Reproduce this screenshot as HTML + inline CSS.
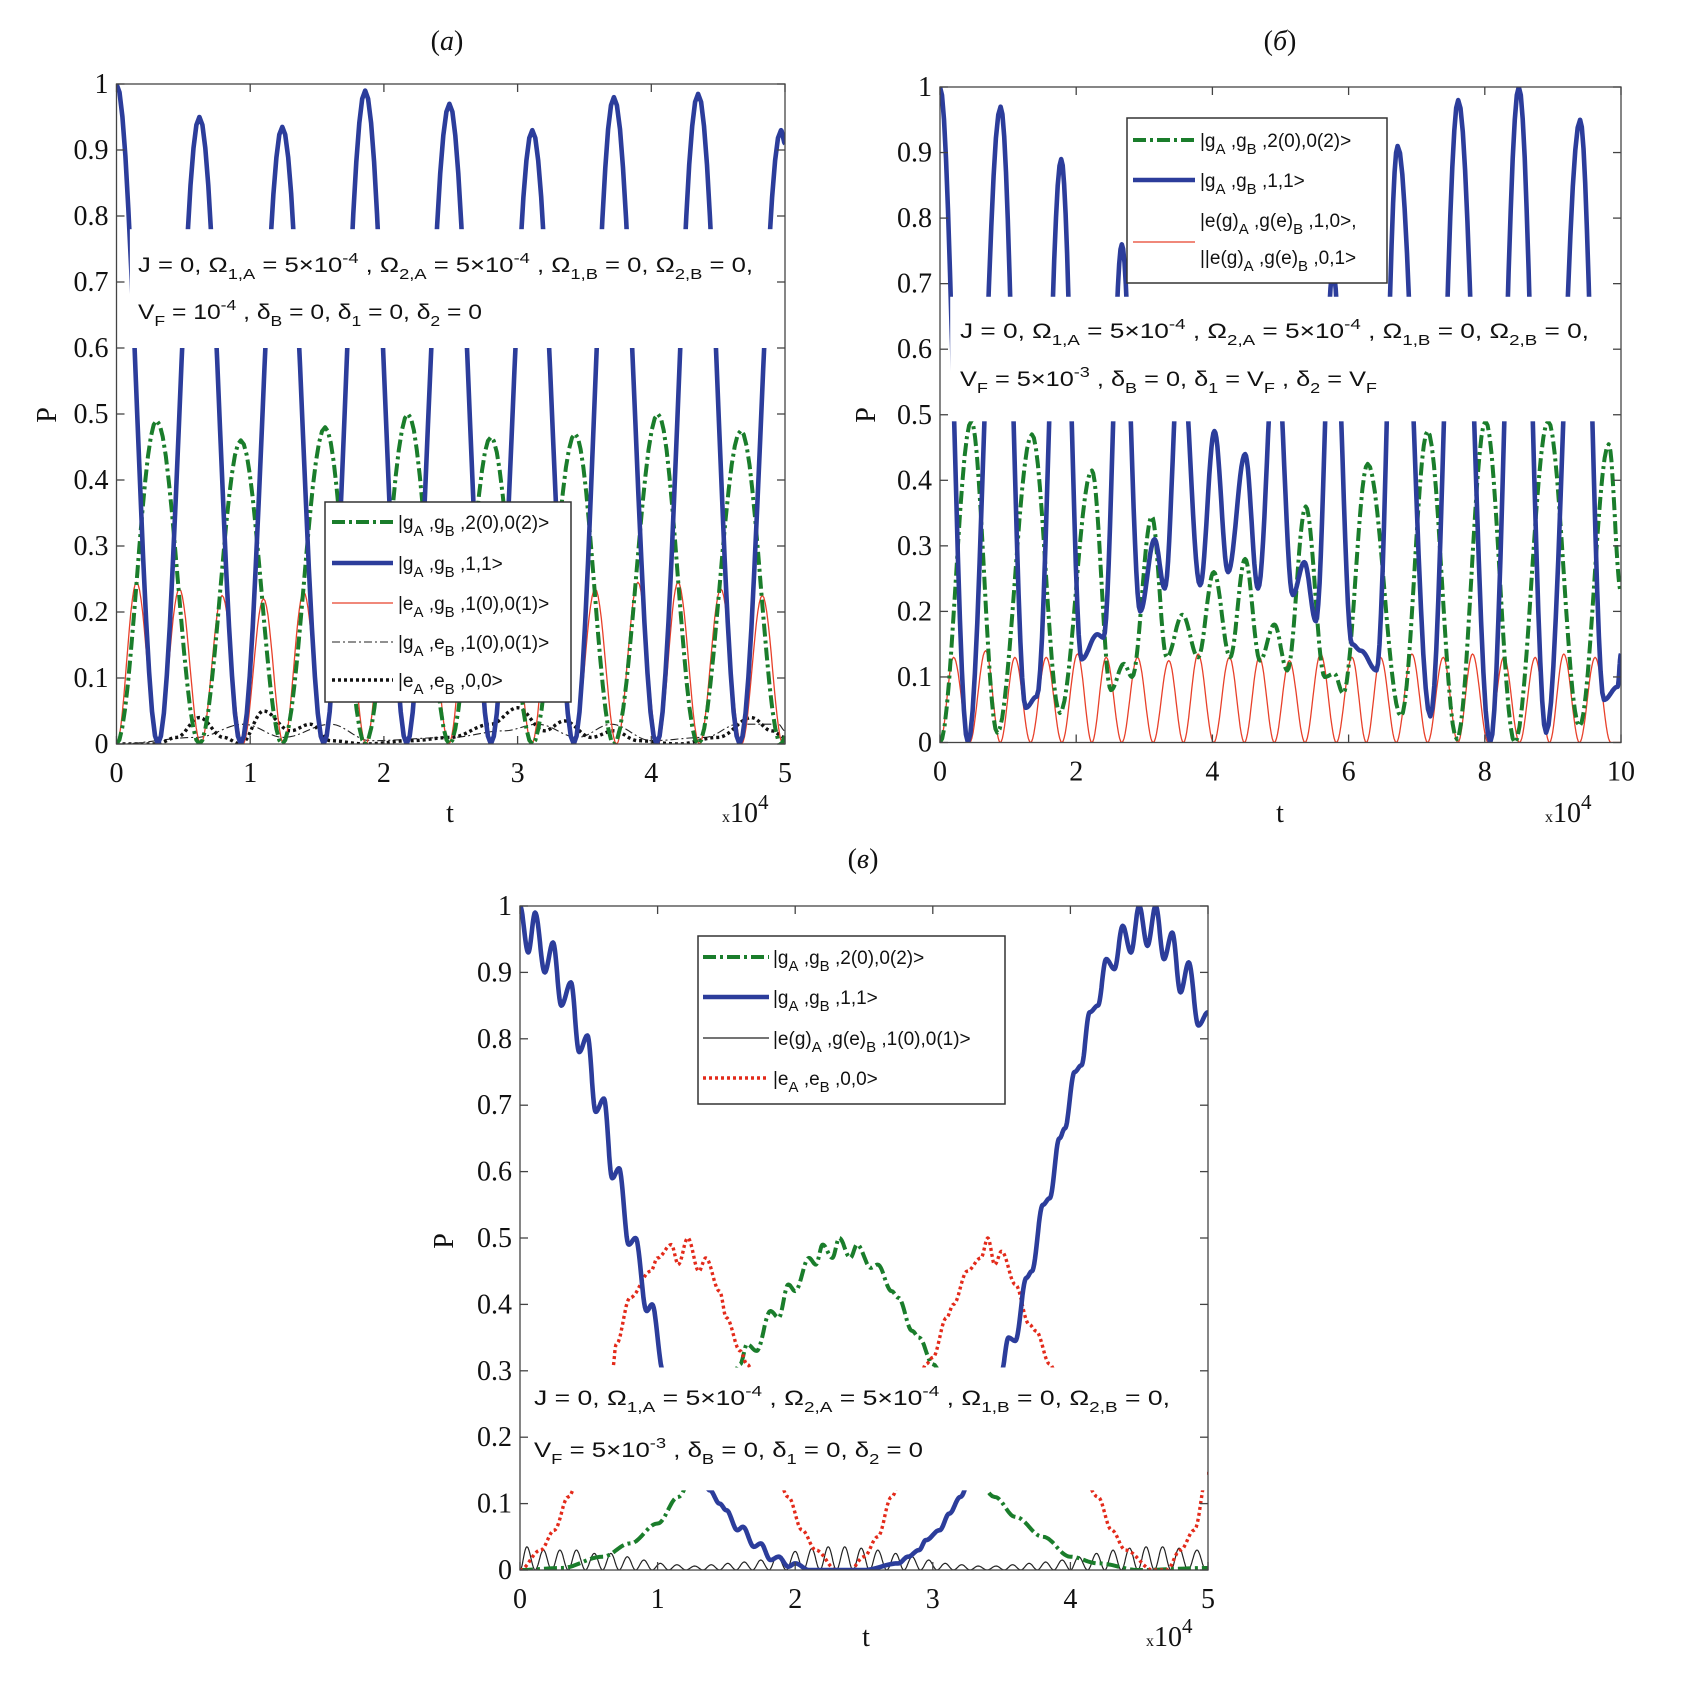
<!DOCTYPE html>
<html><head><meta charset="utf-8"><style>
html,body{margin:0;padding:0;background:#fff}
svg{display:block}
.tk{font-family:"Liberation Serif",serif;font-size:28px;fill:#111}
.sans{font-family:"Liberation Sans",sans-serif;fill:#111}
</style></head><body>
<svg id="fig" width="1698" height="1696" viewBox="0 0 1698 1696" xmlns="http://www.w3.org/2000/svg">
<defs>
<clipPath id="clipA"><rect x="116.5" y="84" width="668.5" height="660"/></clipPath>
<clipPath id="clipB"><rect x="940" y="87" width="681" height="655.5"/></clipPath>
<clipPath id="clipC"><rect x="520" y="906" width="688" height="664"/></clipPath>
</defs>
<g id="panelA"></g>
<g id="panelB"></g>
<g id="panelC"></g>
</svg>
<script>
// ---------- Panel (a) data: [t (x1e4), P] extrema ----------
const aBlue = [[0,1],[0.31,0],[0.62,0.95],[0.93,0],[1.24,0.935],[1.55,0],[1.86,0.99],[2.17,0],[2.49,0.97],[2.8,0],[3.11,0.93],[3.42,0],[3.72,0.98],[4.04,0],[4.35,0.985],[4.66,0],[4.97,0.93],[5,0.91]];
const aGreen = [[0,0],[0.3,0.49],[0.62,0],[0.93,0.46],[1.24,0],[1.56,0.48],[1.86,0],[2.18,0.5],[2.49,0],[2.8,0.465],[3.11,0],[3.43,0.47],[3.72,0],[4.05,0.5],[4.35,0],[4.67,0.475],[4.97,0],[5,0.01]];
const aRedPeakT = [0.15,0.47,0.79,1.1,1.4,1.71,2.02,2.33,2.64,2.95,3.26,3.58,3.9,4.2,4.52,4.83];
const aRedPeakP = [0.245,0.235,0.225,0.22,0.23,0.23,0.23,0.23,0.23,0.23,0.23,0.235,0.245,0.245,0.235,0.225];
const aDots = [[0,0],[0.3,0],[0.45,0.01],[0.62,0.04],[0.8,0.01],[0.93,0],[1.1,0.05],[1.3,0.02],[1.45,0.03],[1.6,0.005],[1.86,0],[2.2,0.005],[2.5,0.01],[2.8,0.03],[3.0,0.055],[3.2,0.02],[3.35,0.035],[3.55,0.01],[3.72,0.02],[3.9,0.005],[4.2,0],[4.5,0.01],[4.75,0.04],[4.9,0.02],[5,0.01]];
const aDashDot = [[0,0],[0.6,0.01],[0.95,0.03],[1.25,0.01],[1.6,0.03],[1.9,0.005],[2.5,0.01],[2.9,0.02],[3.15,0.03],[3.45,0.01],[3.7,0.03],[4.0,0.005],[4.4,0.01],[4.65,0.03],[4.95,0.03],[5,0.02]];
const aXTicks = [0,1,2,3,4,5];
const aXLabels = ["0","1","2","3","4","5"];
const yTicks = [0,0.1,0.2,0.3,0.4,0.5,0.6,0.7,0.8,0.9,1];
const yLabels = ["0","0.1","0.2","0.3","0.4","0.5","0.6","0.7","0.8","0.9","1"];

// ---------- Panel (б) data ----------
const bBlue = [[0,1],[0.41,0],[0.89,0.97],[1.26,0.053],[1.42,0.07],[1.78,0.89],[2.08,0.127],[2.31,0.165],[2.4,0.16],[2.67,0.76],[2.94,0.2],[3.15,0.31],[3.3,0.235],[3.53,0.62],[3.82,0.24],[4.03,0.475],[4.23,0.26],[4.48,0.44],[4.67,0.235],[4.93,0.62],[5.18,0.225],[5.35,0.275],[5.52,0.185],[5.77,0.72],[6.05,0.15],[6.18,0.14],[6.41,0.11],[6.72,0.91],[7.2,0.04],[7.61,0.98],[8.08,0],[8.5,1.0],[8.9,0.015],[9.4,0.95],[9.75,0.065],[9.95,0.085],[10,0.135]];
const bGreen = [[0,0],[0.46,0.49],[0.84,0.015],[1.35,0.47],[1.76,0.045],[2.23,0.415],[2.51,0.08],[2.7,0.12],[2.82,0.1],[3.11,0.345],[3.33,0.13],[3.56,0.195],[3.79,0.13],[4.02,0.26],[4.26,0.13],[4.48,0.28],[4.7,0.125],[4.91,0.18],[5.1,0.11],[5.37,0.36],[5.65,0.1],[5.79,0.105],[5.92,0.075],[6.28,0.425],[6.77,0.04],[7.16,0.475],[7.59,0.005],[8.01,0.49],[8.44,0],[8.93,0.49],[9.39,0.025],[9.82,0.455],[10,0.23]];
const bRedPeakT = [0.2,0.67,1.1,1.56,2.02,2.44,2.9,3.36,3.79,4.25,4.69,5.13,5.59,6.05,6.47,6.93,7.39,7.82,8.28,8.74,9.16,9.62];
const bRedPeakP = [0.13,0.14,0.13,0.13,0.135,0.13,0.13,0.125,0.135,0.13,0.13,0.125,0.135,0.13,0.13,0.135,0.13,0.135,0.13,0.13,0.135,0.13];
const bXTicks = [0,2,4,6,8,10];
const bXLabels = ["0","2","4","6","8","10"];

// ---------- Panel (в) data ----------
const cBlue = [[0,1],[0.06,0.93],[0.11,0.99],[0.18,0.9],[0.24,0.945],[0.3,0.85],[0.37,0.885],[0.43,0.78],[0.49,0.805],[0.55,0.69],[0.61,0.71],[0.67,0.59],[0.72,0.605],[0.79,0.49],[0.84,0.5],[0.92,0.39],[0.96,0.4],[1.04,0.3],[1.1,0.26],[1.2,0.2],[1.3,0.15],[1.38,0.12],[1.45,0.1],[1.5,0.09],[1.58,0.06],[1.62,0.065],[1.7,0.035],[1.75,0.04],[1.82,0.015],[1.88,0.02],[1.95,0.005],[2.0,0.01],[2.1,0],[2.5,0],[2.75,0.01],[2.82,0.02],[2.9,0.03],[2.95,0.045],[3.05,0.06],[3.12,0.085],[3.2,0.11],[3.3,0.16],[3.4,0.24],[3.5,0.3],[3.55,0.35],[3.6,0.345],[3.68,0.44],[3.72,0.45],[3.8,0.55],[3.85,0.56],[3.92,0.65],[3.96,0.665],[4.03,0.75],[4.08,0.76],[4.14,0.84],[4.2,0.85],[4.26,0.92],[4.32,0.905],[4.38,0.97],[4.44,0.93],[4.5,1.0],[4.56,0.94],[4.62,1.0],[4.68,0.92],[4.74,0.96],[4.8,0.87],[4.86,0.915],[4.93,0.82],[5,0.84]];
const cGreen = [[0,0],[0.3,0.003],[0.6,0.02],[0.8,0.04],[1.0,0.07],[1.15,0.11],[1.3,0.17],[1.5,0.26],[1.6,0.31],[1.65,0.34],[1.72,0.33],[1.82,0.39],[1.88,0.38],[1.95,0.43],[2.0,0.42],[2.1,0.47],[2.15,0.46],[2.2,0.49],[2.27,0.47],[2.32,0.5],[2.4,0.47],[2.45,0.49],[2.55,0.455],[2.6,0.46],[2.7,0.42],[2.75,0.41],[2.85,0.36],[2.9,0.35],[3.0,0.31],[3.2,0.2],[3.45,0.11],[3.6,0.08],[3.8,0.05],[4.0,0.02],[4.2,0.01],[4.5,0],[5,0.003]];
const cRed = [[0,0],[0.15,0.03],[0.25,0.06],[0.35,0.11],[0.5,0.2],[0.67,0.3],[0.7,0.34],[0.8,0.41],[0.95,0.45],[1.0,0.47],[1.1,0.49],[1.15,0.46],[1.22,0.5],[1.3,0.45],[1.35,0.47],[1.45,0.42],[1.5,0.38],[1.6,0.33],[1.65,0.31],[1.8,0.2],[1.95,0.11],[2.05,0.06],[2.15,0.03],[2.3,0],[2.4,0],[2.5,0.02],[2.6,0.05],[2.7,0.11],[2.85,0.22],[2.95,0.31],[3.0,0.32],[3.1,0.38],[3.15,0.4],[3.25,0.45],[3.35,0.47],[3.4,0.5],[3.45,0.46],[3.5,0.48],[3.6,0.43],[3.7,0.37],[3.75,0.36],[3.85,0.31],[4.0,0.2],[4.2,0.11],[4.3,0.06],[4.4,0.03],[4.6,0],[4.7,0],[4.8,0.03],[4.9,0.06],[5,0.15]];
const cBlackPeakT = [0.05,0.17,0.29,0.41,0.54,0.66,0.78,0.9,1.02,1.14,1.27,1.39,1.51,1.63,1.75,1.87,2.0,2.12,2.24,2.36,2.48,2.6,2.73,2.85,2.97,3.09,3.21,3.33,3.46,3.58,3.7,3.82,3.94,4.06,4.19,4.31,4.43,4.55,4.67,4.79,4.92];
const cBlackPeakP = [0.035,0.03,0.03,0.03,0.025,0.025,0.02,0.015,0.01,0.008,0.006,0.008,0.01,0.012,0.015,0.022,0.028,0.032,0.035,0.035,0.033,0.03,0.025,0.02,0.015,0.01,0.008,0.006,0.006,0.008,0.01,0.012,0.015,0.02,0.025,0.03,0.033,0.035,0.035,0.033,0.03];
const cXTicks = [0,1,2,3,4,5];
const cXLabels = ["0","1","2","3","4","5"];

const NS = "http://www.w3.org/2000/svg";
function mk(tag, attrs, parent){
  const e = document.createElementNS(NS, tag);
  for (const k in attrs) e.setAttribute(k, attrs[k]);
  parent.appendChild(e);
  return e;
}
function peaksToSeries(T, P, xmax){
  const s = [[0,0]];
  for (let i=0;i<T.length;i++){
    if (i>0) s.push([(T[i-1]+T[i])/2, 0]);
    s.push([T[i], P[i]]);
  }
  const last = T[T.length-1];
  s.push([Math.min(xmax, last + (last - T[T.length-2])/2), 0]);
  if (s[s.length-1][0] < xmax) s.push([xmax, 0]);
  return s;
}
function makeAxes(cfg){
  const sx = t => cfg.L + (t/cfg.xmax)*(cfg.R-cfg.L);
  const sy = p => cfg.B - p*(cfg.B-cfg.T);
  return {sx, sy};
}
function curvePath(pts, ax){
  let d = "";
  for (let i=0;i<pts.length-1;i++){
    const [t0,p0] = pts[i], [t1,p1] = pts[i+1];
    const n = 14;
    for (let k=(i===0?0:1);k<=n;k++){
      const u = k/n;
      const t = t0 + (t1-t0)*u;
      const p = p0 + (p1-p0)*(1-Math.cos(Math.PI*u))/2;
      d += (d===""?"M":"L") + ax.sx(t).toFixed(1) + " " + ax.sy(p).toFixed(1);
    }
  }
  return d;
}
function drawFrame(g, cfg, ax, xt, xl){
  const f = mk("rect", {x:cfg.L, y:cfg.T, width:cfg.R-cfg.L, height:cfg.B-cfg.T, fill:"none", stroke:"#444", "stroke-width":1.3}, g);
  
  
  xt.forEach((v,i)=>{
    const x = ax.sx(v);
    mk("line",{x1:x,y1:cfg.B,x2:x,y2:cfg.B-8,stroke:"#444","stroke-width":1.3},g);
    mk("line",{x1:x,y1:cfg.T,x2:x,y2:cfg.T+8,stroke:"#444","stroke-width":1.3},g);
    const tx = mk("text",{x:x, y:cfg.B+38, "text-anchor":"middle", class:"tk"}, g);
    tx.textContent = xl[i];
    
    
  });
  yTicks.forEach((v,i)=>{
    const y = ax.sy(v);
    mk("line",{x1:cfg.L,y1:y,x2:cfg.L+8,y2:y,stroke:"#444","stroke-width":1.3},g);
    mk("line",{x1:cfg.R,y1:y,x2:cfg.R-8,y2:y,stroke:"#444","stroke-width":1.3},g);
    const ty = mk("text",{x:cfg.L-8, y:y+9, "text-anchor":"end", class:"tk"}, g);
    ty.textContent = yLabels[i];
    
    
  });
  const xt2 = mk("text",{x:cfg.tX, y:cfg.tY, "text-anchor":"middle", class:"tk", "font-size":"32"}, g);
  xt2.textContent = "t";
  
  
  const pl = mk("text",{x:0, y:0, "text-anchor":"middle", class:"tk", "font-size":"32", transform:`translate(${cfg.pX},${cfg.pY}) rotate(-90)`}, g);
  pl.textContent = "P";
  
  
  const ex = mk("text",{x:cfg.eX, y:cfg.tY, class:"tk", "font-size":"31"}, g);
  ex.innerHTML = '<tspan font-size="16">x</tspan>10<tspan font-size="21" dy="-13">4</tspan>';
  
  
  const ti = mk("text",{x:cfg.titleX, y:cfg.titleY, "text-anchor":"middle", class:"tk", "font-size":"37"}, g);
  ti.innerHTML = '(<tspan font-style="italic">'+cfg.title+'</tspan>)';
  
  
}
function drawSeries(g, pts, ax, style, clip, name){
  const p = mk("path", Object.assign({d:curvePath(pts, ax), fill:"none", "clip-path":"url(#"+clip+")", "stroke-linejoin":"round"}, style), g);
  
  
}
function whiteBox(g, x, y, w, h, border, name){
  const r = mk("rect",{x:x,y:y,width:w,height:h,fill:"#fff",stroke:border?"#333":"none","stroke-width":1.5}, g);
  
  
}
function legendEntry(g, x1, x2, y, style, tx, ty, html, name){
  const l = mk("line", Object.assign({x1:x1,y1:y,x2:x2,y2:y}, style), g);
  
  
  const t = mk("text",{x:tx, y:ty, class:"sans", "font-size":"19"}, g);
  t.innerHTML = html;
  
  
}
function annot(g, x, y, html, len, name){
  const t = mk("text",{x:x, y:y, class:"sans", "font-size":"21", textLength:len, lengthAdjust:"spacingAndGlyphs"}, g);
  t.innerHTML = html;
  
  
}
const sub = s => '<tspan font-size="15" dy="7">'+s+'</tspan><tspan dy="-7"> </tspan>';
const sup = s => '<tspan font-size="15" dy="-9">'+s+'</tspan><tspan dy="9"> </tspan>';

const GREEN = {stroke:"#1a7d2b","stroke-width":4,"stroke-dasharray":"13,4,3,4"};
const BLUE = {stroke:"#2c3d9b","stroke-width":4.6};
const RED = {stroke:"#e8402a","stroke-width":1.3};
const REDDOT = {stroke:"#e32a1a","stroke-width":3.4,"stroke-dasharray":"3,3"};
const BLK = {stroke:"#222","stroke-width":1.2};
const BLKDOT = {stroke:"#111","stroke-width":3.4,"stroke-dasharray":"3,3"};
const BLKDD = {stroke:"#222","stroke-width":1.1,"stroke-dasharray":"8,3,2,3"};

// ---------- Panel a ----------
(function(){
  const g = document.getElementById("panelA");
  const cfg = {L:116.5,R:785,T:84,B:744,xmax:5,tX:450,tY:822,pX:56,pY:415,eX:722,titleX:447,titleY:50,title:"a"};
  const ax = makeAxes(cfg);
  drawSeries(g, aDashDot, ax, BLKDD, "clipA", "series-ga-eb");
  drawSeries(g, aDots, ax, BLKDOT, "clipA", "series-ea-eb");
  drawSeries(g, peaksToSeries(aRedPeakT, aRedPeakP, 5), ax, RED, "clipA", "series-ea-gb");
  drawSeries(g, aGreen, ax, GREEN, "clipA", "series-ga-gb-2");
  drawSeries(g, aBlue, ax, BLUE, "clipA", "series-ga-gb-11");
  whiteBox(g, ax.sx(0.1), ax.sy(0.78), cfg.R-ax.sx(0.1)-1, ax.sy(0.6)-ax.sy(0.78), false, "annotation-background");
  annot(g, 138, 272, 'J = 0, Ω'+sub('1,A')+'= 5×10'+sup('-4')+', Ω'+sub('2,A')+'= 5×10'+sup('-4')+',  Ω'+sub('1,B')+'= 0, Ω'+sub('2,B')+'= 0,', 615, "parameters-line-1");
  annot(g, 138, 319, 'V'+sub('F')+'= 10'+sup('-4')+', δ'+sub('B')+'= 0, δ'+sub('1')+'= 0, δ'+sub('2')+'= 0', 344, "parameters-line-2");
  whiteBox(g, 325, 502, 246, 200, true, "legend-box");
  legendEntry(g, 332, 393, 522, GREEN, 398, 529, '|g'+sub('A')+',g'+sub('B')+',2(0),0(2)&gt;', "legend-entry-ga-gb-2");
  legendEntry(g, 332, 393, 563, BLUE, 398, 570, '|g'+sub('A')+',g'+sub('B')+',1,1&gt;', "legend-entry-ga-gb-11");
  legendEntry(g, 332, 393, 603, RED, 398, 610, '|e'+sub('A')+',g'+sub('B')+',1(0),0(1)&gt;', "legend-entry-ea-gb");
  legendEntry(g, 332, 393, 642, BLKDD, 398, 649, '|g'+sub('A')+',e'+sub('B')+',1(0),0(1)&gt;', "legend-entry-ga-eb");
  legendEntry(g, 332, 393, 680, BLKDOT, 398, 687, '|e'+sub('A')+',e'+sub('B')+',0,0&gt;', "legend-entry-ea-eb");
  drawFrame(g, cfg, ax, aXTicks, aXLabels);
})();

// ---------- Panel b ----------
(function(){
  const g = document.getElementById("panelB");
  const cfg = {L:940,R:1621,T:87,B:742.5,xmax:10,tX:1280,tY:822,pX:875,pY:415,eX:1545,titleX:1280,titleY:50,title:"б"};
  const ax = makeAxes(cfg);
  drawSeries(g, peaksToSeries(bRedPeakT, bRedPeakP, 10), ax, RED, "clipB", "series-eg-ge");
  drawSeries(g, bGreen, ax, GREEN, "clipB", "series-ga-gb-2");
  drawSeries(g, bBlue, ax, BLUE, "clipB", "series-ga-gb-11");
  whiteBox(g, ax.sx(0.15), ax.sy(0.68), cfg.R-ax.sx(0.15)-1, ax.sy(0.49)-ax.sy(0.68), false, "annotation-background");
  annot(g, 960, 338, 'J = 0, Ω'+sub('1,A')+'= 5×10'+sup('-4')+', Ω'+sub('2,A')+'= 5×10'+sup('-4')+', Ω'+sub('1,B')+'= 0, Ω'+sub('2,B')+' = 0,', 629, "parameters-line-1");
  annot(g, 960, 386, 'V'+sub('F')+'= 5×10'+sup('-3')+', δ'+sub('B')+'= 0, δ'+sub('1')+'= V'+sub('F')+', δ'+sub('2')+'= V'+sub('F'), 417, "parameters-line-2");
  whiteBox(g, 1127, 118, 260, 165, true, "legend-box");
  legendEntry(g, 1133, 1195, 140, GREEN, 1200, 147, '|g'+sub('A')+',g'+sub('B')+',2(0),0(2)&gt;', "legend-entry-ga-gb-2");
  legendEntry(g, 1133, 1195, 180, BLUE, 1200, 187, '|g'+sub('A')+',g'+sub('B')+',1,1&gt;', "legend-entry-ga-gb-11");
  legendEntry(g, 1133, 1195, 242, RED, 1200, 227, '|e(g)'+sub('A')+',g(e)'+sub('B')+',1,0&gt;,', "legend-entry-eg-ge-10");
  const t2 = mk("text",{x:1200, y:264, class:"sans", "font-size":"19"}, g);
  t2.innerHTML = '||e(g)'+sub('A')+',g(e)'+sub('B')+',0,1&gt;';
  
  
  drawFrame(g, cfg, ax, bXTicks, bXLabels);
})();

// ---------- Panel c ----------
(function(){
  const g = document.getElementById("panelC");
  const cfg = {L:520,R:1208,T:906,B:1570,xmax:5,tX:866,tY:1646,pX:453,pY:1241,eX:1146,titleX:863,titleY:868,title:"в"};
  const ax = makeAxes(cfg);
  drawSeries(g, peaksToSeries(cBlackPeakT, cBlackPeakP, 5), ax, BLK, "clipC", "series-eg-ge");
  drawSeries(g, cGreen, ax, GREEN, "clipC", "series-ga-gb-2");
  drawSeries(g, cRed, ax, REDDOT, "clipC", "series-ea-eb");
  drawSeries(g, cBlue, ax, BLUE, "clipC", "series-ga-gb-11");
  whiteBox(g, cfg.L+2, ax.sy(0.305), cfg.R-cfg.L-3, ax.sy(0.12)-ax.sy(0.305), false, "annotation-background");
  annot(g, 534, 1405, 'J = 0, Ω'+sub('1,A')+'= 5×10'+sup('-4')+', Ω'+sub('2,A')+'= 5×10'+sup('-4')+',  Ω'+sub('1,B')+'= 0, Ω'+sub('2,B')+'= 0,', 636, "parameters-line-1");
  annot(g, 534, 1457, 'V'+sub('F')+'= 5×10'+sup('-3')+', δ'+sub('B')+'= 0, δ'+sub('1')+'= 0, δ'+sub('2')+'= 0', 389, "parameters-line-2");
  whiteBox(g, 698, 936, 307, 168, true, "legend-box");
  legendEntry(g, 703, 769, 957, GREEN, 773, 964, '|g'+sub('A')+',g'+sub('B')+',2(0),0(2)&gt;', "legend-entry-ga-gb-2");
  legendEntry(g, 703, 769, 997, BLUE, 773, 1004, '|g'+sub('A')+',g'+sub('B')+',1,1&gt;', "legend-entry-ga-gb-11");
  legendEntry(g, 703, 769, 1038, BLK, 773, 1045, '|e(g)'+sub('A')+',g(e)'+sub('B')+',1(0),0(1)&gt;', "legend-entry-eg-ge");
  legendEntry(g, 703, 769, 1078, REDDOT, 773, 1085, '|e'+sub('A')+',e'+sub('B')+',0,0&gt;', "legend-entry-ea-eb");
  drawFrame(g, cfg, ax, cXTicks, cXLabels);
})();
</script>
</body></html>
